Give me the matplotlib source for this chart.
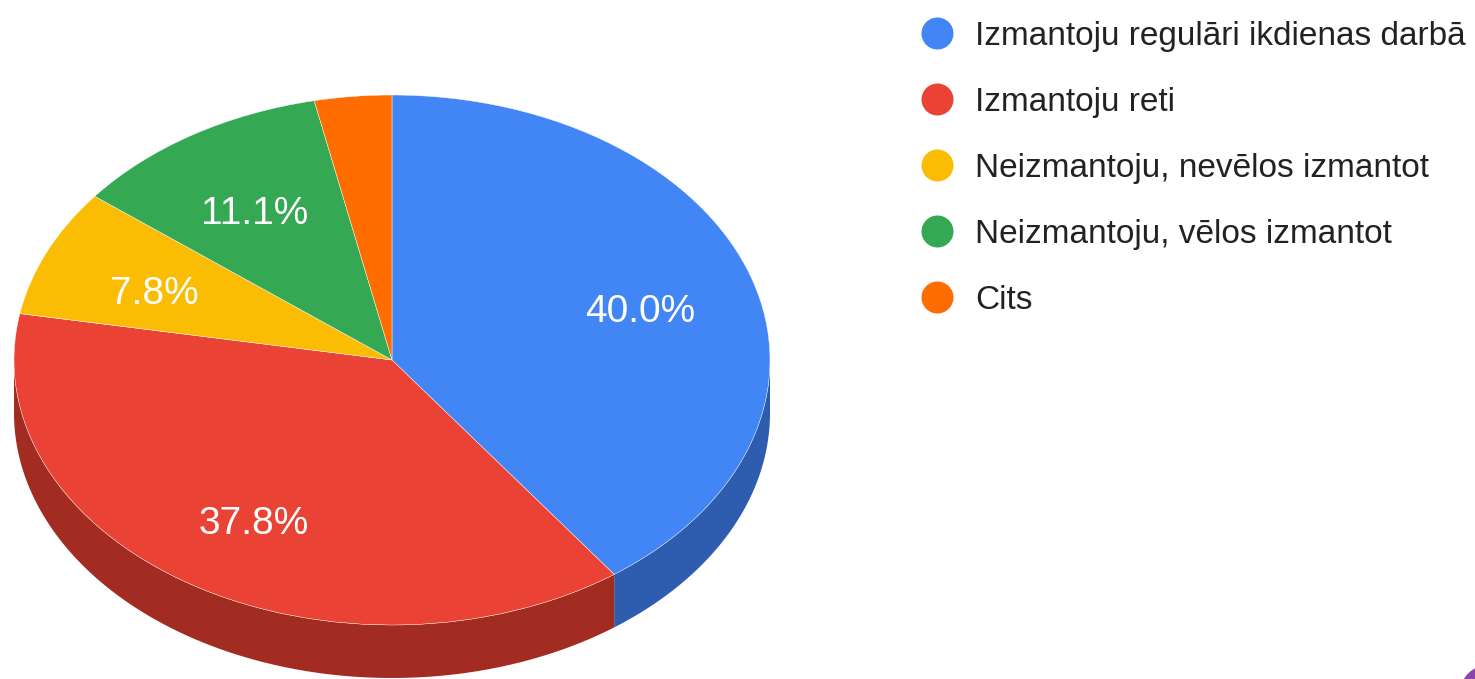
import numpy as np
import matplotlib
matplotlib.use("Agg")
import matplotlib.pyplot as plt
import matplotlib.transforms as mtransforms
from matplotlib.patches import Polygon, Circle

# ------------------------------
# DATA
# ------------------------------
labels = [
    "Izmantoju regulāri ikdienas darbā",
    "Izmantoju reti",
    "Neizmantoju, nevēlos izmantot",
    "Neizmantoju, vēlos izmantot",
    "Cits",
]
shares = [40.0, 37.8, 7.8, 11.1, 3.3]
colors = ["#4285f4", "#ea4335", "#fbbc04", "#34a853", "#ff6d01"]
side_colors = ["#2e5db0", "#a32c22", "#b08403", "#24753a", "#b34c01"]

plt.rcParams["font.family"] = ["Liberation Sans", "DejaVu Sans"]

W, H = 1475, 679
fig = plt.figure(figsize=(W / 100, H / 100), dpi=100)
ax = fig.add_axes([0, 0, 1, 1])

# pie center / radii in pixels (tilted circle -> ellipse)
cx, cy = 392, 360
rx, ry = 378, 265
depth = 53 / ry

# ------------------------------
# SIDE (3D depth) - only lower half is visible
# ------------------------------
fracs = np.array(shares) / sum(shares)
cum = np.concatenate([[0], np.cumsum(fracs)])
for i in range(len(shares)):
    a = 90 - 360 * cum[i + 1]
    b = 90 - 360 * cum[i]
    lo, hi = max(a, -180), min(b, 0)
    if hi <= lo:
        continue
    t = np.radians(np.linspace(lo, hi, 200))
    top = np.column_stack([np.cos(t), np.sin(t)])
    bot = np.column_stack([np.cos(t[::-1]), np.sin(t[::-1]) - depth])
    ax.add_patch(Polygon(np.vstack([top, bot]), closed=True,
                         facecolor=side_colors[i], edgecolor="none", zorder=1))

# ------------------------------
# TOP FACE
# ------------------------------
wedges, _, autotexts = ax.pie(
    shares, colors=colors, startangle=90, counterclock=False,
    autopct=lambda p: f"{p:.1f}%" if p > 5 else "",
    pctdistance=0.69, normalize=True,
    wedgeprops=dict(edgecolor="white", linewidth=0.3),
    textprops=dict(color="white", fontsize=28),
)
shift = mtransforms.ScaledTranslation(0, -5 / 100, fig.dpi_scale_trans)
for w in wedges:
    w.set_zorder(2)
for t in autotexts:
    t.set_zorder(3)
    t.set_va("center_baseline")
    t.set_transform(t.get_transform() + shift)

ax.set_aspect("auto")
ax.set_xlim(-cx / rx, (W - cx) / rx)
ax.set_ylim(-(H - cy) / ry, cy / ry)
ax.axis("off")

# ------------------------------
# LEGEND
# ------------------------------
y0, step = 33, 66
for i, (lab, col) in enumerate(zip(labels, colors)):
    y = 1 - (y0 + i * step) / H
    ax.scatter([937 / W], [y], s=531, color=col, linewidths=0,
               transform=fig.transFigure, clip_on=False, zorder=5)
    fig.text(975 / W, y, lab, fontsize=24, color="#222222", va="center_baseline")

# small purple corner mark
fig.patches.append(Circle((14.9, -0.16), 0.3, transform=fig.dpi_scale_trans,
                          color="#8e44ad"))

fig.savefig("out.png", dpi=100, facecolor="white")
